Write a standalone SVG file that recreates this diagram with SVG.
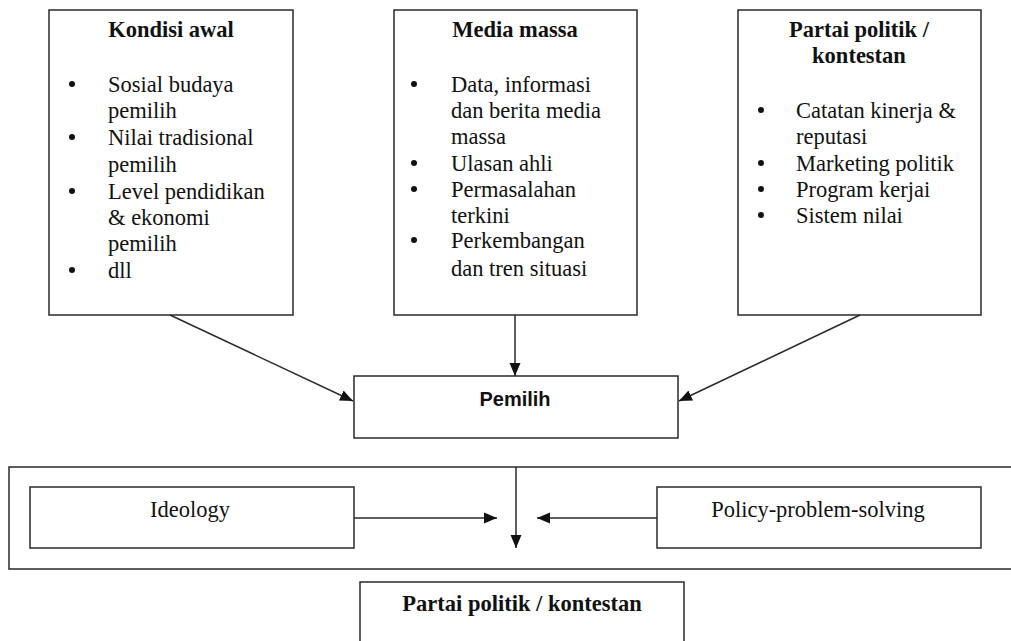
<svg xmlns="http://www.w3.org/2000/svg" width="1011" height="641" viewBox="0 0 1011 641">
<style>
.box{fill:#fff;stroke:#2a2a2a;stroke-width:1.5}
.t{font-family:"Liberation Serif","Times New Roman",serif;font-size:22.5px;fill:#111}
.b{font-weight:bold}
.c{text-anchor:middle}
.s{font-family:"Liberation Sans",Arial,sans-serif;font-size:20px;font-weight:bold;fill:#111;text-anchor:middle}
.bul{fill:#111}
.con{stroke:#2a2a2a;stroke-width:1.5;fill:none}
</style>
<defs>
<marker id="ah" markerUnits="userSpaceOnUse" markerWidth="14" markerHeight="12" refX="13" refY="6" orient="auto">
<path d="M0,0.5 L13,6 L0,11.5 z" fill="#111"/>
</marker>
</defs>
<rect width="1011" height="641" fill="#fff"/>

<g id="kondisi-awal">
<rect class="box" x="49" y="10" width="244" height="305"/>
<text class="t b c" x="171" y="37">Kondisi awal</text>
<circle class="bul" cx="72" cy="84" r="3"/>
<circle class="bul" cx="72" cy="137" r="3"/>
<circle class="bul" cx="72" cy="191" r="3"/>
<circle class="bul" cx="72" cy="270" r="3"/>
<text class="t" x="108" y="92">Sosial budaya</text>
<text class="t" x="108" y="118">pemilih</text>
<text class="t" x="108" y="145">Nilai tradisional</text>
<text class="t" x="108" y="172">pemilih</text>
<text class="t" x="108" y="199">Level pendidikan</text>
<text class="t" x="108" y="225">&amp; ekonomi</text>
<text class="t" x="108" y="251">pemilih</text>
<text class="t" x="108" y="278">dll</text>
</g>

<g id="media-massa">
<rect class="box" x="394" y="10" width="243" height="305"/>
<text class="t b c" x="515" y="37">Media massa</text>
<circle class="bul" cx="414" cy="84" r="3"/>
<circle class="bul" cx="414" cy="163" r="3"/>
<circle class="bul" cx="414" cy="189" r="3"/>
<circle class="bul" cx="414" cy="240" r="3"/>
<text class="t" x="451" y="92">Data, informasi</text>
<text class="t" x="451" y="118">dan berita media</text>
<text class="t" x="451" y="144">massa</text>
<text class="t" x="451" y="171">Ulasan ahli</text>
<text class="t" x="451" y="197">Permasalahan</text>
<text class="t" x="451" y="223">terkini</text>
<text class="t" x="451" y="248">Perkembangan</text>
<text class="t" x="451" y="276">dan tren situasi</text>
</g>

<g id="partai-politik-atas">
<rect class="box" x="738" y="10" width="243" height="305"/>
<text class="t b c" x="859" y="37">Partai politik /</text>
<text class="t b c" x="859" y="63">kontestan</text>
<circle class="bul" cx="761" cy="110" r="3"/>
<circle class="bul" cx="761" cy="163" r="3"/>
<circle class="bul" cx="761" cy="189" r="3"/>
<circle class="bul" cx="761" cy="215" r="3"/>
<text class="t" x="796" y="118">Catatan kinerja &amp;</text>
<text class="t" x="796" y="144">reputasi</text>
<text class="t" x="796" y="171">Marketing politik</text>
<text class="t" x="796" y="197">Program kerjai</text>
<text class="t" x="796" y="223">Sistem nilai</text>
</g>

<g id="pemilih">
<rect class="box" x="354" y="376" width="324" height="62"/>
<text class="s" x="515" y="406">Pemilih</text>
</g>

<g id="kerangka">
<rect class="box" x="9" y="467" width="1010" height="102"/>
</g>

<g id="ideology">
<rect class="box" x="30" y="487" width="324" height="61"/>
<text class="t c" x="190" y="517">Ideology</text>
</g>

<g id="policy">
<rect class="box" x="657" y="487" width="324" height="61"/>
<text class="t c" x="818" y="517">Policy-problem-solving</text>
</g>

<g id="partai-politik-bawah">
<rect class="box" x="360" y="582" width="324" height="80"/>
<text class="t b c" x="522" y="611">Partai politik / kontestan</text>
</g>

<g id="connectors">
<line class="con" x1="170" y1="315" x2="353" y2="401" marker-end="url(#ah)"/>
<line class="con" x1="515" y1="315" x2="515" y2="376" marker-end="url(#ah)"/>
<line class="con" x1="860" y1="315" x2="679" y2="401" marker-end="url(#ah)"/>
<line class="con" x1="354" y1="518" x2="497" y2="518" marker-end="url(#ah)"/>
<line class="con" x1="657" y1="518" x2="537" y2="518" marker-end="url(#ah)"/>
<line class="con" x1="516" y1="467" x2="516" y2="548" marker-end="url(#ah)"/>
</g>
</svg>
